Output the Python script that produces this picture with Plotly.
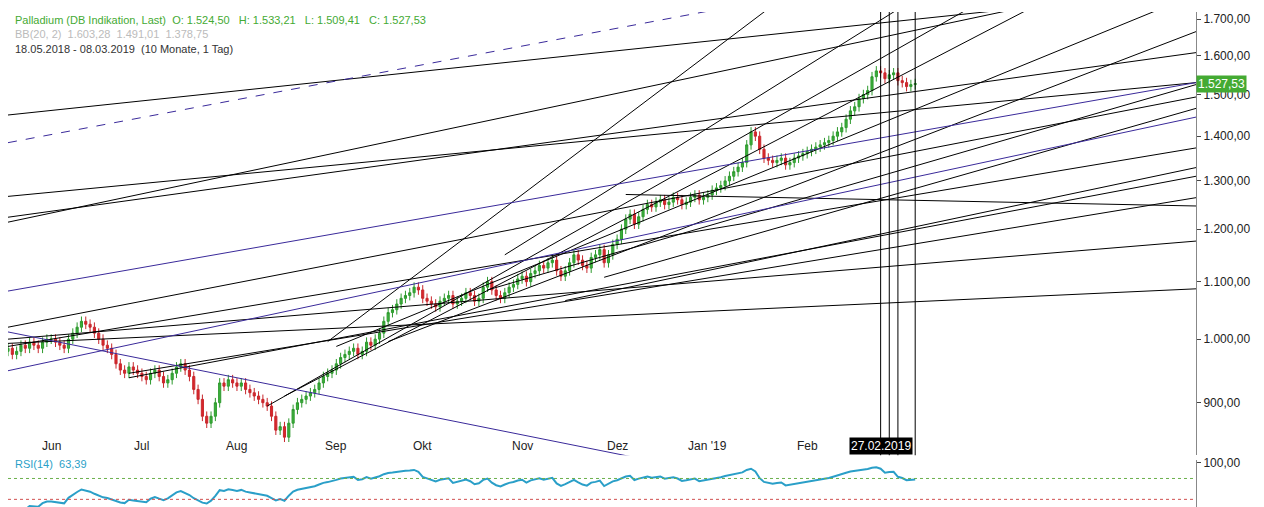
import numpy as np
import pandas as pd
import plotly.graph_objects as go
from plotly.subplots import make_subplots

# daily closes (trading days 18.05.2018 - 08.03.2019)
close_may = [985, 975, 980, 990, 985, 995, 990, 985, 995, 1000]
close_jun = [1000, 995, 990, 985, 1000, 1010, 1020, 1030, 1025, 1020, 1010, 1000, 990, 985, 975, 960, 950, 945, 955, 950, 945]
close_jul = [940, 935, 945, 950, 940, 930, 935, 945, 955, 960, 950, 940, 920, 905, 880, 870, 880, 900, 930, 925, 935, 930]
close_aug = [925, 930, 920, 915, 910, 905, 900, 895, 880, 860, 865, 850, 870, 890, 900, 905, 910, 915, 920, 930, 940, 945, 950]
close_sep = [960, 970, 975, 980, 985, 975, 980, 995, 990, 1000, 1010, 1030, 1045, 1050, 1060, 1070, 1075, 1080, 1090, 1085]
close_oct = [1070, 1065, 1060, 1055, 1065, 1070, 1075, 1060, 1065, 1070, 1080, 1075, 1065, 1070, 1090, 1100, 1085, 1075, 1070, 1080, 1090, 1095, 1105]
close_nov = [1110, 1100, 1115, 1120, 1130, 1125, 1135, 1140, 1120, 1110, 1120, 1135, 1150, 1140, 1130, 1125, 1145, 1150, 1160, 1135, 1150, 1170]
close_dec = [1180, 1200, 1220, 1230, 1210, 1225, 1240, 1250, 1245, 1255, 1260, 1250, 1255, 1265, 1260, 1250, 1255, 1265, 1270, 1260, 1265]
close_jan = [1270, 1280, 1285, 1290, 1300, 1310, 1320, 1330, 1340, 1380, 1410, 1400, 1370, 1350, 1345, 1340, 1345, 1350, 1335, 1340, 1350, 1355, 1360]
close_feb = [1365, 1370, 1375, 1380, 1385, 1390, 1400, 1410, 1420, 1440, 1460, 1470, 1490, 1500, 1510, 1545, 1560, 1555, 1540, 1550]
close_mar = [1555, 1535, 1530, 1520, 1525, 1527.53]

closes = close_may + close_jun + close_jul + close_aug + close_sep + close_oct + close_nov + close_dec + close_jan + close_feb + close_mar
opens = [980] + closes[:-1]

month_idx = [10, 31, 53, 76, 96, 119, 141, 162, 185]
month_txt = ["Jun", "Jul", "Aug", "Sep", "Okt", "Nov", "Dez", "Jan '19", "Feb"]

# drawn trend lines: (day0, price0, day1, price1)
black_lines = [
    (0, 1450, 226, 1720), (0, 1224, 275, 1608), (0, 1214, 230, 1720), (0, 1267, 275, 1530),
    (0, 1020, 275, 1494), (0, 988, 275, 1373), (0, 993, 275, 1087), (143, 1271, 275, 1247),
    (28, 938, 275, 1310), (60, 895, 221, 1720), (64, 910, 235, 1720), (76, 988, 265, 1720),
    (88, 996, 275, 1665), (111, 1085, 275, 1525), (129, 1066, 275, 1329), (138, 1108, 275, 1466),
    (74, 996, 175, 1720), (115, 1150, 205, 1720), (28, 945, 76, 1000), (0, 1000, 50, 1030),
]
purple_lines = [(0, 1083, 275, 1530), (0, 949, 275, 1445), (0, 1012, 140, 828)]
dashed_lines = [(0, 1385, 161, 1720)]
vlines = [202, 204, 206, 210]

n = len(closes)
x = list(range(n))
highs = [max(o, c) * 1.008 for o, c in zip(opens, closes)]
lows = [min(o, c) * 0.992 for o, c in zip(opens, closes)]

# RSI(14), Wilder
s = pd.Series(closes, dtype=float)
d = s.diff()
up = d.clip(lower=0).ewm(alpha=1 / 14, adjust=False).mean()
dn = (-d.clip(upper=0)).ewm(alpha=1 / 14, adjust=False).mean()
rsi = 100 - 100 / (1 + up / dn)

fig = make_subplots(rows=2, cols=1, row_heights=[0.89, 0.11], vertical_spacing=0.01, shared_xaxes=True)

fig.add_trace(go.Candlestick(x=x, open=opens, high=highs, low=lows, close=closes,
                             increasing=dict(line=dict(color="#2e9a2e", width=1), fillcolor="#3cb03c"),
                             decreasing=dict(line=dict(color="#c8282d", width=1), fillcolor="#d9262b"),
                             whiskerwidth=0, showlegend=False), row=1, col=1)

for lines, col, dash in [(black_lines, "black", "solid"), (purple_lines, "#3a2a9a", "solid"), (dashed_lines, "#3a2a9a", "dash")]:
    for x0, y0, x1, y1 in lines:
        # extend to the right edge on a log scale
        k = (np.log(y1) - np.log(y0)) / (x1 - x0)
        xe = 290
        fig.add_trace(go.Scatter(x=[x0, xe], y=[y0, float(np.exp(np.log(y0) + k * (xe - x0)))], mode="lines",
                                 line=dict(color=col, width=1, dash=dash), showlegend=False, hoverinfo="skip"),
                      row=1, col=1)

for v in vlines:
    fig.add_trace(go.Scatter(x=[v, v], y=[800, 1800], mode="lines", line=dict(color="black", width=1),
                             showlegend=False, hoverinfo="skip"), row=1, col=1)

fig.add_trace(go.Scatter(x=x, y=rsi, mode="lines", line=dict(color="#2a9fc8", width=2), showlegend=False), row=2, col=1)
for lvl in [70, 30]:
    fig.add_trace(go.Scatter(x=[0, 275], y=[lvl, lvl], mode="lines", line=dict(color="#6ab04c" if lvl == 70 else "#d05050", width=1, dash="dot"),
                             showlegend=False), row=2, col=1)

fig.update_layout(width=1264, height=507, margin=dict(l=0, r=76, t=0, b=0), plot_bgcolor="white", paper_bgcolor="white",
                  separators=",.", font=dict(family="Arial, Liberation Sans", size=12, color="#222"),
                  xaxis_rangeslider_visible=False)
fig.update_xaxes(range=[0, 275], showgrid=False, zeroline=False, showticklabels=False, row=1, col=1)
fig.update_xaxes(range=[0, 275], showgrid=False, showticklabels=False, row=2, col=1)
fig.update_yaxes(type="log", range=[np.log10(825), np.log10(1720)], side="right", tickformat=",.2f",
                 tickvals=[900, 1000, 1100, 1200, 1300, 1400, 1500, 1600, 1700], showgrid=False,
                 ticks="outside", ticklen=4, showline=True, linecolor="#888", row=1, col=1)
fig.update_yaxes(range=[0, 105], side="right", tickvals=[100], tickformat=",.2f", showgrid=False,
                 ticks="outside", ticklen=4, showline=True, linecolor="#888", row=2, col=1)

for xi, t in zip(month_idx, month_txt):
    fig.add_annotation(x=xi, y=np.log10(838), text=t, showarrow=False, font=dict(size=12, color="#222"), xref="x", yref="y")

fig.add_annotation(x=202, y=np.log10(838), text="27.02.2019", showarrow=False, bgcolor="black",
                   font=dict(color="white", size=12), xref="x", yref="y")
fig.add_annotation(x=1.0, xanchor="left", y=np.log10(1527.53), yref="y", xref="paper", text="1.527,53",
                   showarrow=False, bgcolor="#44aa33", font=dict(color="white", size=12))

fig.add_annotation(x=0.004, y=1.0, xref="paper", yref="paper", xanchor="left", yanchor="top", showarrow=False, align="left",
                   text="<span style='color:#44aa33'>Palladium (DB Indikation, Last)  O: 1.524,50   H: 1.533,21   L: 1.509,41   C: 1.527,53</span><br>"
                        "<span style='color:#bbb'>BB(20, 2)  1.603,28  1.491,01  1.378,75</span><br>"
                        "<span style='color:#333'>18.05.2018 - 08.03.2019  (10 Monate, 1 Tag)</span>",
                   font=dict(size=11))
fig.add_annotation(x=0.004, y=0.085, xref="paper", yref="paper", xanchor="left", showarrow=False,
                   text="RSI(14)  63,39", font=dict(size=11, color="#2a9fc8"))

fig.write_html("out.html")
